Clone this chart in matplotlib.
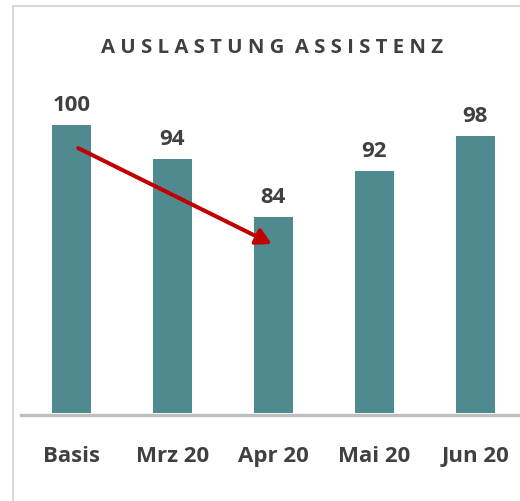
import matplotlib
matplotlib.use("Agg")
import matplotlib.pyplot as plt
from matplotlib.lines import Line2D

categories = ["Basis", "Mrz 20", "Apr 20", "Mai 20", "Jun 20"]
values = [100, 94, 84, 92, 98]
title = "AUSLASTUNG ASSISTENZ"

W, H = 520, 502
fig = plt.figure(figsize=(W / 100, H / 100), dpi=100)
plt.rcParams['font.family'] = ['Open Sans', 'DejaVu Sans']

ymin, ymax = 50, 110
px_per = 5.77
bottom_px = 414
top_px = bottom_px - (ymax - ymin) * px_per
spacing = 101.0
left_px = 71.4 - spacing / 2
width_px = spacing * 5
ax = fig.add_axes([left_px / W, 1 - bottom_px / H, width_px / W, (bottom_px - top_px) / H])
ax.set_xlim(-0.5, 4.5)
ax.set_ylim(ymin, ymax)

x = list(range(len(categories)))
ax.bar(x, [v - ymin for v in values], bottom=ymin, width=0.385, color="#4F8A90", zorder=2)

for xi, v in zip(x, values):
    ax.annotate(str(v), (xi, v), xytext=(0, 10.6), textcoords="offset points",
                ha="center", va="baseline", fontsize=16, fontweight="bold", color="#404040")

for s in ["top", "right", "left"]:
    ax.spines[s].set_visible(False)
ax.spines["bottom"].set_color("#BFBFBF")
ax.spines["bottom"].set_linewidth(2.4)
ax.spines["bottom"].set_position(("outward", 1.2))
ax.spines["bottom"].set_zorder(3)
ax.set_yticks([])
ax.set_xticks(x)
ax.set_xticklabels(categories, fontsize=16, fontweight="bold", color="#404040")
for lbl in ax.get_xticklabels():
    lbl.set_verticalalignment("baseline")
ax.tick_params(axis="x", length=0, pad=33.2)

ax.annotate("", xy=(1.983, 79.3), xytext=(0.068, 95.9),
            arrowprops=dict(arrowstyle="-|>,head_length=0.9,head_width=0.5",
                            color="#C00000", lw=2.9, shrinkA=0, shrinkB=0), zorder=4)

spaced = "  ".join(" ".join(list(w)) for w in title.split(" "))
fig.text(271.6 / W, 1 - 53.3 / H, spaced, ha="center", va="baseline", fontsize=14.7,
         fontweight="bold", color="#404040")

fig.add_artist(Line2D([13 / W, 13 / W], [0, 1 - 7 / H], color="#D9D9D9", lw=1.5, transform=fig.transFigure))
fig.add_artist(Line2D([13 / W, 1], [1 - 7 / H, 1 - 7 / H], color="#D9D9D9", lw=1.5, transform=fig.transFigure))

fig.savefig("out.png", dpi=100)
